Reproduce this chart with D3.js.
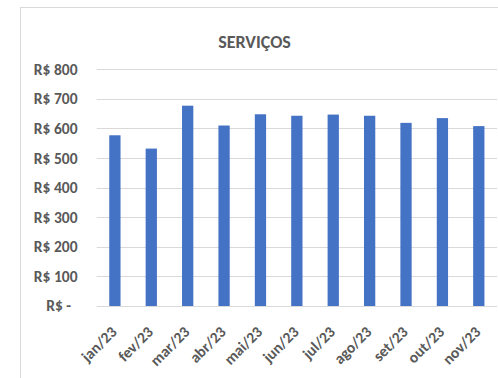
<!DOCTYPE html>
<html>
<head>
<meta charset="utf-8">
<script src="https://cdn.jsdelivr.net/npm/d3@7"></script>
<style>
  html, body { margin: 0; padding: 0; background: #fff; }
  svg { display: block; }
  text { font-family: Carlito, "Liberation Sans Narrow", "Liberation Sans", sans-serif; }
</style>
</head>
<body>
<svg id="chart" width="498" height="378"></svg>
<script>
// Monthly services spending (R$)
const months = ["jan/23", "fev/23", "mar/23", "abr/23", "mai/23", "jun/23",
                "jul/23", "ago/23", "set/23", "out/23", "nov/23"];
const values = [577, 532, 677, 610, 648, 643, 647, 643, 619, 635, 608];
const yTicks = [0, 100, 200, 300, 400, 500, 600, 700, 800];
const title = "SERVIÇOS";

const svg = d3.select("#chart");
const textColor = "#595959";

// chart frame
svg.append("rect")
  .attr("x", 20.5).attr("y", 7.5)
  .attr("width", 520).attr("height", 420)
  .attr("fill", "#fff")
  .attr("stroke", "#d9d9d9").attr("stroke-width", 1);

const plot = { left: 96.7, right: 497, top: 69.3, bottom: 306 };

const x = d3.scaleBand()
  .domain(months)
  .range([plot.left, plot.right])
  .paddingInner(0.69)
  .paddingOuter(0.345);

const y = d3.scaleLinear()
  .domain([0, 800])
  .range([plot.bottom, plot.top]);

// gridlines
svg.append("g")
  .selectAll("line")
  .data(yTicks)
  .join("line")
  .attr("x1", plot.left).attr("x2", plot.right)
  .attr("y1", d => Math.round(y(d)) + 0.5)
  .attr("y2", d => Math.round(y(d)) + 0.5)
  .attr("stroke", "#d9d9d9").attr("stroke-width", 1);

// bars
svg.append("g")
  .selectAll("rect")
  .data(values)
  .join("rect")
  .attr("x", (d, i) => x(months[i]))
  .attr("width", x.bandwidth())
  .attr("y", d => y(d))
  .attr("height", d => y(0) - y(d))
  .attr("fill", "#4472C4");

// y axis labels
const yAxis = d3.axisLeft(y)
  .tickValues(yTicks)
  .tickSize(0)
  .tickPadding(0)
  .tickFormat(d => d === 0 ? "R$ -" : "R$ " + d);

const gy = svg.append("g")
  .attr("transform", `translate(${77.5},0)`)
  .call(yAxis);
gy.select(".domain").remove();
gy.selectAll("text")
  .attr("fill", textColor)
  .attr("font-size", 15.5)
  .attr("font-weight", "bold")
  .attr("dx", d => d === 0 ? -6.5 : 0);

// x axis labels
const xAxis = d3.axisBottom(x).tickSize(0).tickPadding(0);
const gx = svg.append("g")
  .attr("transform", `translate(0,${plot.bottom})`)
  .call(xAxis);
gx.select(".domain").remove();
gx.selectAll("text")
  .attr("fill", textColor)
  .attr("font-size", 15.5)
  .attr("font-weight", "bold")
  .attr("text-anchor", "end")
  .attr("dy", "0.35em")
  .attr("transform", "translate(-1,23) rotate(-45)");

// title
svg.append("text")
  .attr("x", 254.5).attr("y", 48)
  .attr("text-anchor", "middle")
  .attr("fill", textColor)
  .attr("font-size", 18)
  .attr("font-weight", "bold")
  .text(title);
</script>
</body>
</html>
